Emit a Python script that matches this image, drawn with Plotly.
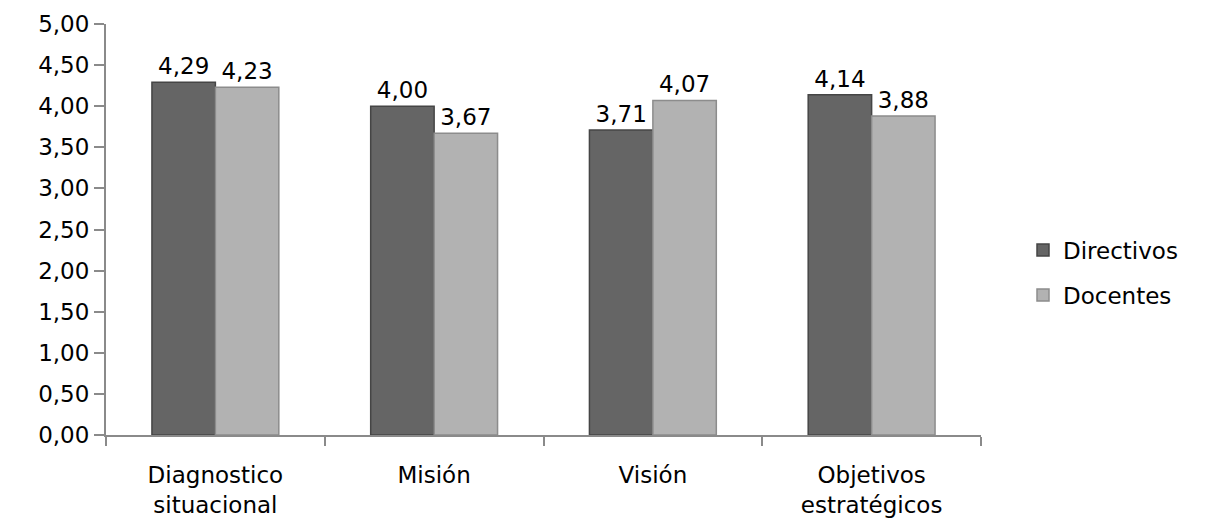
import plotly.graph_objects as go

categories = ["Diagnostico<br>situacional", "Misión", "Visión", "Objetivos<br>estratégicos"]
directivos = [4.29, 4.00, 3.71, 4.14]
docentes = [4.23, 3.67, 4.07, 3.88]
y_ticks = [0, 0.5, 1, 1.5, 2, 2.5, 3, 3.5, 4, 4.5, 5]

FONT = "DejaVu Sans"
FS = 23

fig = go.Figure()
fig.add_trace(go.Bar(
    name="Directivos", x=categories, y=directivos, legendgroup="dir",
    marker=dict(color="#656565", line=dict(color="#454545", width=1.5)),
    text=directivos, texttemplate="%{y:.2f}", textposition="outside",
    textfont=dict(family=FONT, size=FS, color="#000000"), cliponaxis=False,
))
fig.add_trace(go.Bar(
    name="Docentes", x=categories, y=docentes, legendgroup="doc",
    marker=dict(color="#b2b2b2", line=dict(color="#8c8c8c", width=1.5)),
    text=docentes, texttemplate="%{y:.2f}", textposition="outside",
    textfont=dict(family=FONT, size=FS, color="#000000"), cliponaxis=False,
))

fig.update_layout(
    width=1213, height=520,
    margin=dict(l=106, r=232, t=24, b=85),
    paper_bgcolor="white", plot_bgcolor="white",
    barmode="group", bargap=0.42, bargroupgap=0,
    separators=",.",
    font=dict(family=FONT, size=FS, color="#000000"),
    legend=dict(x=1.048, y=0.395, xanchor="left", yanchor="middle",
                font=dict(family=FONT, size=FS), itemwidth=30,
                tracegroupgap=12),
    xaxis=dict(showline=True, linecolor="#8a8a8a", linewidth=2,
               ticks="outside", tickson="boundaries", ticklen=9,
               tickcolor="#8a8a8a", tickwidth=2, showgrid=False,
               ticklabelstandoff=18, automargin=False,
               tickfont=dict(family=FONT, size=FS)),
    yaxis=dict(range=[0, 5], tickvals=y_ticks, tickformat=".2f",
               showline=True, linecolor="#8a8a8a", linewidth=2,
               ticks="outside", ticklen=10, tickcolor="#8a8a8a", tickwidth=2,
               showgrid=False, zeroline=False, automargin=False,
               tickfont=dict(family=FONT, size=FS)),
)

fig.write_html("out.html")
